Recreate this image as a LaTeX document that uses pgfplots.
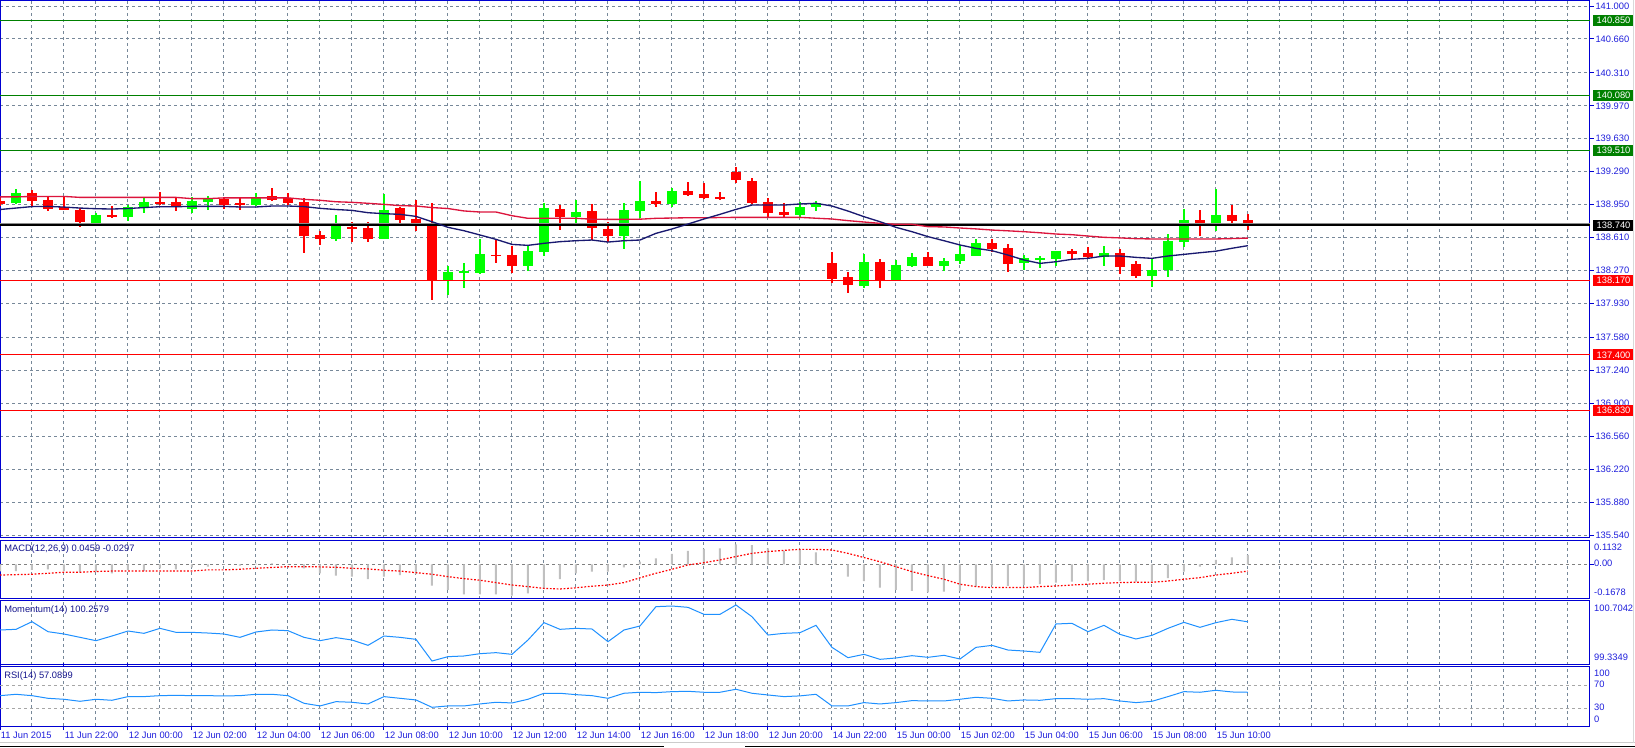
\documentclass[border=0pt]{standalone}
\usepackage{pgfplots}
\pgfplotsset{compat=1.18}
\usepackage{pgfplotstable}
\usepackage{fontspec}
\setmainfont{Liberation Sans}
\definecolor{bull}{RGB}{0,255,0}
\definecolor{bear}{RGB}{255,0,0}
\definecolor{gridc}{RGB}{119,136,153}
\definecolor{frame}{RGB}{0,0,210}
\definecolor{axtext}{RGB}{30,30,220}
\definecolor{lvgreen}{RGB}{0,128,0}
\definecolor{crim}{RGB}{220,20,60}
\definecolor{navyma}{RGB}{25,25,112}
\definecolor{dodger}{RGB}{30,144,255}
\definecolor{silv}{RGB}{192,192,192}
\definecolor{paneltxt}{RGB}{20,20,140}

\pgfplotstableread{
i o h l c
0 138.988 139.016 138.936 138.960
2 139.071 139.102 138.936 138.992
3 138.998 139.033 138.888 138.909
4 138.930 139.033 138.899 138.899
5 138.895 138.912 138.723 138.775
7 138.844 138.936 138.816 138.826
10 138.978 139.081 138.946 138.967
11 138.978 139.026 138.885 138.930
14 139.009 139.026 138.902 138.946
15 138.967 139.016 138.895 138.950
17 139.040 139.118 138.992 139.002
18 139.016 139.067 138.946 138.971
19 138.978 139.016 138.454 138.630
20 138.637 138.678 138.533 138.599
22 138.716 138.774 138.567 138.702
23 138.709 138.771 138.567 138.599
25 138.915 138.930 138.750 138.795
26 138.802 138.998 138.682 138.737
27 138.750 138.970 137.966 138.172
31 138.434 138.592 138.344 138.424
32 138.430 138.527 138.248 138.320
35 138.905 138.946 138.688 138.826
37 138.884 138.957 138.585 138.712
38 138.699 138.774 138.568 138.630
41 138.988 139.080 138.929 138.960
43 139.091 139.184 139.043 139.053
44 139.060 139.173 139.012 139.022
45 139.025 139.087 138.998 139.019
46 139.287 139.335 139.177 139.208
47 139.194 139.225 138.953 138.970
48 138.977 139.022 138.826 138.867
49 138.874 138.970 138.819 138.847
52 138.344 138.465 138.145 138.186
53 138.203 138.258 138.042 138.121
55 138.358 138.389 138.086 138.172
58 138.410 138.465 138.320 138.320
62 138.554 138.596 138.465 138.492
63 138.503 138.544 138.258 138.341
67 138.472 138.492 138.379 138.444
68 138.451 138.516 138.396 138.410
70 138.451 138.492 138.234 138.310
71 138.338 138.368 138.196 138.217
75 138.791 138.894 138.626 138.740
77 138.843 138.946 138.740 138.784
78 138.791 138.853 138.688 138.740
}\bears

\pgfplotstableread{
i o h l c
1 138.967 139.112 138.960 139.071
6 138.764 138.868 138.758 138.844
8 138.826 138.946 138.785 138.923
9 138.919 139.016 138.868 138.978
12 138.909 139.026 138.868 138.988
13 138.981 139.040 138.895 139.009
16 138.950 139.074 138.940 139.026
21 138.599 138.843 138.578 138.733
24 138.599 139.060 138.599 138.895
28 138.172 138.317 138.018 138.258
29 138.248 138.344 138.086 138.262
30 138.248 138.602 138.241 138.441
33 138.320 138.540 138.269 138.472
34 138.465 138.964 138.420 138.915
36 138.826 138.998 138.764 138.874
39 138.630 138.964 138.489 138.895
40 138.888 139.194 138.816 138.988
42 138.960 139.118 138.922 139.091
50 138.847 138.977 138.826 138.926
51 138.922 138.987 138.884 138.963
54 138.114 138.441 138.086 138.358
56 138.172 138.379 138.172 138.327
57 138.320 138.454 138.303 138.410
59 138.320 138.399 138.265 138.368
60 138.368 138.534 138.334 138.441
61 138.420 138.596 138.420 138.554
64 138.351 138.430 138.276 138.399
65 138.389 138.420 138.300 138.399
66 138.389 138.472 138.320 138.472
69 138.413 138.523 138.317 138.451
72 138.217 138.386 138.104 138.276
73 138.279 138.647 138.207 138.575
74 138.568 138.901 138.516 138.791
76 138.740 139.108 138.681 138.843
}\bulls

\pgfplotstableread{
i slow fast
0 139.030 138.900
1 139.030 138.915
2 139.035 138.930
3 139.035 138.932
4 139.035 138.925
5 139.025 138.915
6 139.025 138.908
7 139.025 138.905
8 139.025 138.910
9 139.025 138.920
10 139.025 138.929
11 139.025 138.929
12 139.012 138.932
13 139.012 138.932
14 139.020 138.932
15 139.020 138.926
16 139.020 138.926
17 139.020 138.936
18 139.020 138.936
19 139.005 138.930
20 138.995 138.912
21 138.980 138.900
22 138.974 138.891
23 138.964 138.867
24 138.953 138.857
25 138.940 138.850
26 138.936 138.829
27 138.920 138.774
28 138.910 138.716
29 138.885 138.681
30 138.874 138.637
31 138.874 138.592
32 138.836 138.540
33 138.809 138.530
34 138.809 138.551
35 138.809 138.568
36 138.809 138.578
37 138.800 138.585
38 138.798 138.564
39 138.798 138.578
40 138.800 138.585
41 138.809 138.654
42 138.812 138.699
43 138.815 138.750
44 138.815 138.802
45 138.817 138.850
46 138.819 138.901
47 138.819 138.946
48 138.819 138.946
49 138.819 138.946
50 138.819 138.957
51 138.810 138.964
52 138.802 138.936
53 138.785 138.884
54 138.771 138.826
55 138.757 138.774
56 138.747 138.716
57 138.747 138.671
58 138.723 138.620
59 138.720 138.578
60 138.709 138.534
61 138.700 138.499
62 138.688 138.475
63 138.680 138.430
64 138.671 138.379
65 138.660 138.344
66 138.647 138.361
67 138.640 138.386
68 138.626 138.396
69 138.613 138.420
70 138.607 138.420
71 138.599 138.406
72 138.596 138.396
73 138.596 138.420
74 138.596 138.437
75 138.596 138.454
76 138.596 138.470
77 138.600 138.500
78 138.605 138.527
}\mas

\pgfplotstableread{
i m s mom rsi
0 -0.035 -0.054 100.075 52.4
1 -0.034 -0.052 100.090 54.8
2 -0.028 -0.050 100.262 52.4
3 -0.025 -0.045 100.037 47.7
4 -0.034 -0.040 99.985 46.0
5 -0.040 -0.040 99.910 42.4
6 -0.037 -0.036 99.835 46.0
7 -0.045 -0.034 99.940 44.2
8 -0.028 -0.034 100.052 50.7
9 -0.034 -0.034 100.000 50.7
10 -0.020 -0.034 100.112 52.4
11 -0.025 -0.034 100.022 53.0
12 -0.015 -0.034 100.022 52.4
13 -0.012 -0.028 100.007 52.4
14 -0.003 -0.028 99.985 51.9
15 -0.007 -0.025 99.910 52.4
16 0.003 -0.020 100.030 54.8
17 0.005 -0.016 100.075 54.8
18 0.001 -0.012 100.060 52.4
19 -0.020 -0.012 99.910 38.9
20 -0.045 -0.013 99.835 34.2
21 -0.057 -0.015 99.903 41.8
22 -0.062 -0.020 99.850 40.7
23 -0.075 -0.023 99.730 37.7
24 -0.062 -0.030 99.940 50.7
25 -0.054 -0.034 99.910 47.7
26 -0.049 -0.042 99.865 44.8
27 -0.107 -0.050 99.378 31.8
28 -0.129 -0.062 99.476 34.2
29 -0.151 -0.072 99.491 34.2
30 -0.151 -0.080 99.543 37.7
31 -0.151 -0.092 99.566 40.7
32 -0.157 -0.104 99.528 39.5
33 -0.146 -0.112 99.850 46.0
34 -0.124 -0.121 100.240 56.6
35 -0.075 -0.124 100.090 56.6
36 -0.045 -0.118 100.112 54.2
37 -0.037 -0.110 100.097 52.4
38 -0.037 -0.104 99.813 47.7
39 -0.015 -0.092 100.075 56.6
40 0.013 -0.068 100.165 58.4
41 0.030 -0.045 100.599 57.8
42 0.052 -0.025 100.614 59.5
43 0.067 -0.003 100.584 60.1
44 0.077 0.008 100.427 58.4
45 0.080 0.022 100.427 58.4
46 0.100 0.039 100.637 63.7
47 0.097 0.055 100.374 56.6
48 0.080 0.064 99.962 53.6
49 0.067 0.070 100.000 50.7
50 0.072 0.075 100.015 52.0
51 0.060 0.075 100.180 54.8
52 0.002 0.072 99.685 34.2
53 -0.062 0.055 99.453 34.2
54 -0.084 0.034 99.528 40.1
55 -0.117 0.013 99.416 37.7
56 -0.129 -0.012 99.446 40.1
57 -0.134 -0.037 99.498 43.6
58 -0.141 -0.057 99.461 43.0
59 -0.137 -0.075 99.506 43.0
60 -0.134 -0.100 99.423 46.0
61 -0.112 -0.112 99.685 49.5
62 -0.104 -0.117 99.730 47.7
63 -0.109 -0.117 99.625 43.0
64 -0.104 -0.117 99.603 44.8
65 -0.100 -0.112 99.573 44.2
66 -0.092 -0.109 100.210 47.1
67 -0.087 -0.104 100.225 47.1
68 -0.084 -0.100 100.037 46.0
69 -0.079 -0.095 100.180 47.1
70 -0.084 -0.092 99.977 43.0
71 -0.087 -0.090 99.873 40.1
72 -0.087 -0.090 99.955 42.4
73 -0.070 -0.084 100.112 50.7
74 -0.037 -0.075 100.247 59.5
75 -0.012 -0.067 100.135 58.4
76 0.022 -0.054 100.240 61.9
77 0.035 -0.045 100.315 58.9
78 0.047 -0.034 100.258 58.4
}\ind

\pgfplotsset{
  mt/.style={
    scale only axis, width=1192.5pt, xmin=0, xmax=99.375,
    anchor=north west,
    axis line style={draw=frame, line width=0.75pt},
    xtick={0,2,...,98}, xticklabels={},
    xtick style={draw=none},
    ytick=\empty,
    xmajorgrids,
    major grid style={gridc, line width=0.75pt, dash pattern=on 2.25pt off 2.25pt},
    clip mode=individual,
  },
  wick/.style={draw=none, mark=none, forget plot,
    error bars/.cd, y dir=both, y explicit, error mark=none,
    error bar style={draw=#1, solid, line width=1.5pt}},
  body/.style={draw=none, mark=none, forget plot,
    error bars/.cd, y dir=both, y explicit, error mark=none,
    error bar style={draw=#1, solid, line width=8pt}},
}
\tikzset{
  lab/.style={anchor=west, text=white, inner xsep=2.6pt, inner ysep=0pt,
    minimum height=8.25pt, xshift=2.25pt},
  rlab/.style={anchor=west, text=axtext, inner xsep=0pt, inner ysep=0pt, xshift=3pt},
  plab/.style={anchor=west, text=paneltxt, inner xsep=0pt, xshift=3pt},
}

\begin{document}
\begin{tikzpicture}[font=\fontsize{7}{8.4}\selectfont]
\useasboundingbox (0,0) rectangle (1226.25pt,-560.25pt);
\fill[white] (0,0) rectangle (1226.25pt,-560.25pt);

% ---------------- main price panel
\begin{axis}[mt, at={(0pt,0pt)}, height=403.125pt,
  ymin=135.515, ymax=141.062,
  ytick={135.54,135.88,136.22,136.56,136.90,137.24,137.58,137.93,138.27,138.61,138.95,139.29,139.63,139.97,140.31,140.66,141.00},
  yticklabels={135.540,135.880,136.220,136.560,136.900,137.240,137.580,137.930,138.270,138.610,138.950,139.290,139.630,139.970,140.310,140.660,141.000},
  ymajorgrids, yticklabel pos=right, ytick pos=right,
  ytick style={draw=frame, line width=0.75pt},
  major tick length=3pt, tick align=outside,
  yticklabel style={text=axtext, anchor=west, inner xsep=0pt, xshift=1pt},
]
\addplot[wick=bear] table[x=i, y expr={(\thisrow{h}+\thisrow{l})/2}, y error expr={(\thisrow{h}-\thisrow{l})/2}] {\bears};
\addplot[wick=bull] table[x=i, y expr={(\thisrow{h}+\thisrow{l})/2}, y error expr={(\thisrow{h}-\thisrow{l})/2}] {\bulls};
\addplot[body=bear] table[x=i, y expr={(\thisrow{o}+\thisrow{c})/2}, y error expr={max(abs(\thisrow{o}-\thisrow{c})/2,0.006)}] {\bears};
\addplot[body=bull] table[x=i, y expr={(\thisrow{o}+\thisrow{c})/2}, y error expr={max(abs(\thisrow{o}-\thisrow{c})/2,0.006)}] {\bulls};

\addplot[lvgreen, line width=0.75pt] coordinates {(0,140.85) (99.375,140.85)};
\addplot[lvgreen, line width=0.75pt] coordinates {(0,140.08) (99.375,140.08)};
\addplot[lvgreen, line width=0.75pt] coordinates {(0,139.51) (99.375,139.51)};
\addplot[black!45, line width=0.75pt] coordinates {(0,138.754) (99.375,138.754)};
\addplot[black, line width=1.1pt] coordinates {(0,138.74) (99.375,138.74)};
\addplot[bear, line width=0.85pt] coordinates {(0,138.17) (99.375,138.17)};
\addplot[bear, line width=0.85pt] coordinates {(0,137.40) (99.375,137.40)};
\addplot[bear, line width=0.85pt] coordinates {(0,136.83) (99.375,136.83)};

\addplot[crim, line width=1pt] table[x=i, y=slow] {\mas};
\addplot[navyma, line width=1pt] table[x=i, y=fast] {\mas};

\node[lab, fill=lvgreen] at (axis cs:99.375,140.85) {140.850};
\node[lab, fill=lvgreen] at (axis cs:99.375,140.08) {140.080};
\node[lab, fill=lvgreen] at (axis cs:99.375,139.51) {139.510};
\node[lab, fill=black] at (axis cs:99.375,138.74) {138.740};
\node[lab, fill=bear] at (axis cs:99.375,138.17) {138.170};
\node[lab, fill=bear] at (axis cs:99.375,137.40) {137.400};
\node[lab, fill=bear] at (axis cs:99.375,136.83) {136.830};
\end{axis}

% ---------------- MACD
\begin{axis}[mt, at={(0pt,-405.375pt)}, height=43.5pt,
  ymin=-0.1719, ymax=0.1196,
  ytick={0}, yticklabels={}, ytick pos=right,
  ytick style={draw=frame, line width=0.75pt},
  major tick length=3pt, tick align=outside,
]
\addplot[gray, line width=0.75pt, dash pattern=on 2.25pt off 2.25pt] coordinates {(0,0) (99.375,0)};
\addplot[ybar, bar width=1.5pt, fill=silv, draw=none] table[x=i, y=m] {\ind};
\addplot[red, line width=0.9pt, dash pattern=on 1.3pt off 1.3pt] table[x=i, y=s] {\ind};
\node[plab] at (rel axis cs:0,0.853) {MACD(12,26,9) 0.0459 -0.0297};
\node[rlab] at (axis cs:99.375,0.0869) {0.1132};
\node[rlab] at (axis cs:99.375,0.0065) {0.00};
\node[rlab] at (axis cs:99.375,-0.139) {-0.1678};
\end{axis}

% ---------------- Momentum
\begin{axis}[mt, at={(0pt,-450.525pt)}, height=48pt,
  ymin=99.295, ymax=100.733,
]
\addplot[dodger, line width=0.75pt] table[x=i, y=mom] {\ind};
\node[plab] at (rel axis cs:0,0.855) {Momentum(14) 100.2579};
\node[rlab] at (axis cs:99.375,100.569) {100.7042};
\node[rlab] at (axis cs:99.375,99.468) {99.3349};
\end{axis}

% ---------------- RSI
\begin{axis}[mt, at={(0pt,-500.025pt)}, height=44.475pt,
  ymin=-1.3, ymax=103.6,
  extra x ticks={0,4,...,76},
  extra x tick labels={11 Jun 2015,11 Jun 22:00,12 Jun 00:00,12 Jun 02:00,12 Jun 04:00,12 Jun 06:00,12 Jun 08:00,12 Jun 10:00,12 Jun 12:00,12 Jun 14:00,12 Jun 16:00,12 Jun 18:00,12 Jun 20:00,14 Jun 22:00,15 Jun 00:00,15 Jun 02:00,15 Jun 04:00,15 Jun 06:00,15 Jun 08:00,15 Jun 10:00},
  extra x tick style={grid=none, major tick length=3pt, tick align=outside,
     xtick style={draw=frame, line width=0.75pt},
     xticklabel style={anchor=north west, text=axtext, inner sep=0pt, xshift=0.5pt, yshift=-1pt}},
]
\addplot[gray!70, line width=0.75pt, dash pattern=on 2.25pt off 2.25pt] coordinates {(0,70) (99.375,70)};
\addplot[gray!70, line width=0.75pt, dash pattern=on 2.25pt off 2.25pt] coordinates {(0,30) (99.375,30)};
\addplot[dodger, line width=0.75pt] table[x=i, y=rsi] {\ind};
\node[plab] at (rel axis cs:0,0.848) {RSI(14) 57.0899};
\node[rlab] at (axis cs:99.375,92.6) {100};
\node[rlab] at (axis cs:99.375,73.1) {70};
\node[rlab] at (axis cs:99.375,32.4) {30};
\node[rlab] at (axis cs:99.375,11.2) {0};
\end{axis}

% window frame
\draw[black!20, line width=0.75pt] (0,-556.9pt) -- (1226.25pt,-556.9pt);
\draw[black, line width=0.9pt] (0,-559.6pt) -- (498pt,-559.6pt);
\draw[black, line width=0.9pt] (559pt,-559.6pt) -- (1226.25pt,-559.6pt);
\draw[black!15, line width=0.75pt] (1225pt,0) -- (1225pt,-556.9pt);
\end{tikzpicture}
\end{document}
